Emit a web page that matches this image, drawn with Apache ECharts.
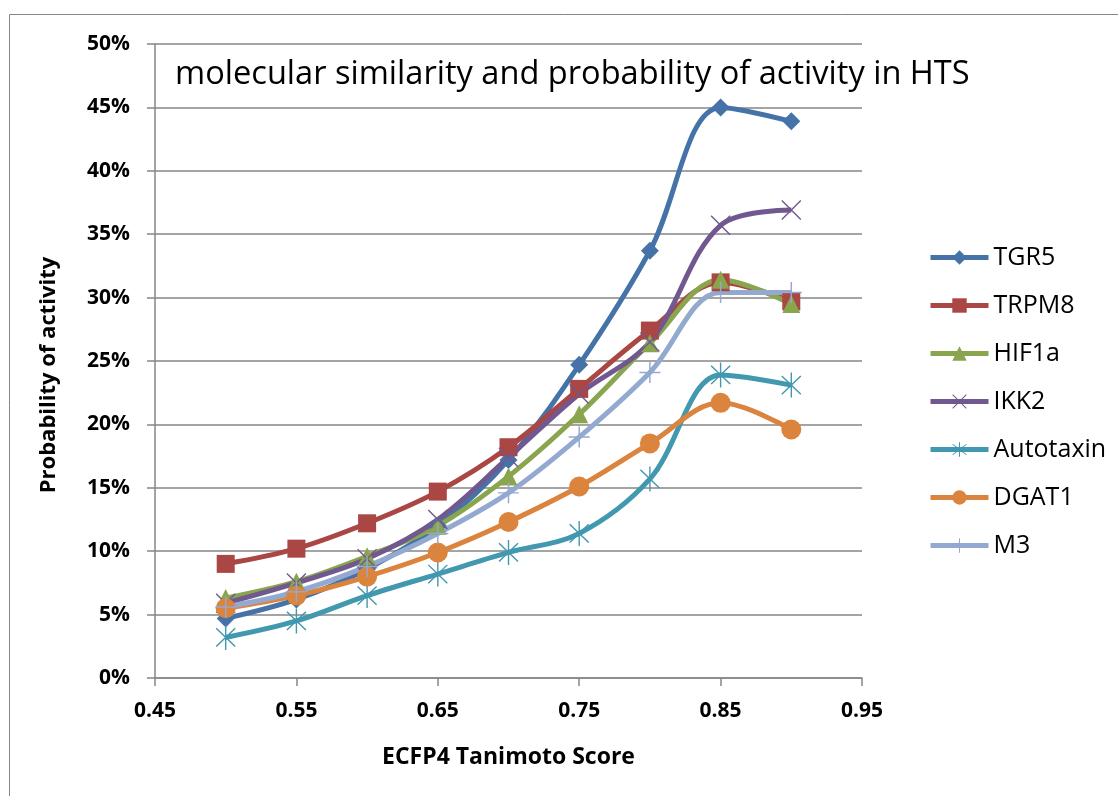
<!DOCTYPE html>
<html>
<head>
<meta charset="utf-8">
<script src="https://cdn.jsdelivr.net/npm/echarts@6/dist/echarts.min.js"></script>
<style>
  * { margin: 0; padding: 0; }
  body { background: #fff; }
  #chart { width: 1118px; height: 796px; }
</style>
</head>
<body>
<div id="chart"></div>
<script>
// x values (ECFP4 Tanimoto score)
var scores = [0.5, 0.55, 0.6, 0.65, 0.7, 0.75, 0.8, 0.85, 0.9];

// probability of activity, %
var tgr5      = [4.7, 6.2, 8.6, 12.0, 17.2, 24.7, 33.7, 45.0, 43.9];
var trpm8     = [9.0, 10.2, 12.2, 14.7, 18.2, 22.8, 27.4, 31.2, 29.7];
var hif1a     = [6.3, 7.6, 9.6, 12.0, 15.9, 20.8, 26.4, 31.4, 29.5];
var ikk2      = [5.9, 7.5, 9.4, 12.5, 17.4, 22.4, 26.5, 35.7, 36.9];
var autotaxin = [3.2, 4.5, 6.5, 8.2, 9.9, 11.4, 15.7, 23.9, 23.1];
var dgat1     = [5.5, 6.5, 8.0, 9.9, 12.3, 15.1, 18.5, 21.7, 19.6];
var m3        = [5.6, 6.8, 8.8, 11.4, 14.6, 19.0, 24.1, 30.4, 30.4];

var FONT = "'Open Sans', 'Noto Sans', sans-serif";

// marker shapes that are strokes in the original
var xPath = "path://M-10,-9 L-9,-10 L10,9 L9,10 Z M9,-10 L10,-9 L-9,10 L-10,9 Z";
var starPath = "path://M-10,-9 L-9,-10 L10,9 L9,10 Z M9,-10 L10,-9 L-9,10 L-10,9 Z M-0.7,-13 L0.7,-13 L0.7,13 L-0.7,13 Z";
var plusPath = "path://M-0.7,-10 L0.7,-10 L0.7,10 L-0.7,10 Z M-10,-0.7 L10,-0.7 L10,0.7 L-10,0.7 Z";

function pts(arr) {
  return scores.map(function (x, i) { return [x, arr[i]]; });
}

function makeSeries(name, arr, color, symbol, size) {
  return {
    name: name,
    type: "line",
    data: pts(arr),
    smooth: 0.35,
    symbol: symbol,
    symbolSize: size,
    showAllSymbol: true,
    lineStyle: { color: color, width: 5 },
    itemStyle: { color: color, opacity: 1 },
    emphasis: { disabled: true },
    z: 3
  };
}

var myChart = echarts.init(document.getElementById("chart"));
var option = {
  animation: false,
  backgroundColor: "#fff",
  color: ["#4572A7", "#AA4643", "#89A54E", "#71588F", "#4198AF", "#DB843D", "#93A9CF"],
  title: {
    text: "molecular similarity and probability of activity in HTS",
    left: 170,
    top: 53,
    textStyle: { fontFamily: FONT, fontSize: 32.6, fontWeight: "normal", color: "#000" }
  },
  graphic: [
    {
      type: "rect",
      shape: { x: 9.5, y: 14.5, width: 1120, height: 800 },
      style: { fill: "none", stroke: "#868686", lineWidth: 1 },
      silent: true
    }
  ],
  legend: {
    orient: "vertical",
    left: 923,
    top: 240,
    itemWidth: 58,
    itemHeight: 18,
    itemGap: 23,
    lineStyle: { width: 5 },
    textStyle: { fontFamily: FONT, fontSize: 25, color: "#000" },
    data: ["TGR5", "TRPM8", "HIF1a", "IKK2", "Autotaxin", "DGAT1", "M3"]
  },
  grid: { left: 155, right: 256, top: 44, bottom: 118 },
  xAxis: {
    type: "value",
    min: 0.45,
    max: 0.95,
    interval: 0.1,
    name: "ECFP4 Tanimoto Score",
    nameLocation: "middle",
    nameGap: 68,
    nameTextStyle: { fontFamily: FONT, fontSize: 23, fontWeight: "bold", color: "#000" },
    axisLine: { lineStyle: { color: "#868686", width: 1.5 } },
    axisTick: { show: true, length: 8, lineStyle: { color: "#868686", width: 1.5 } },
    axisLabel: {
      fontFamily: FONT, fontSize: 21, fontWeight: "bold", color: "#000", margin: 23,
      formatter: function (v) { return v.toFixed(2); }
    },
    splitLine: { show: false }
  },
  yAxis: {
    type: "value",
    min: 0,
    max: 50,
    interval: 5,
    name: "Probability of activity",
    nameLocation: "middle",
    nameGap: 95,
    nameRotate: 90,
    nameTextStyle: {
      fontFamily: FONT, fontSize: 22, fontWeight: "bold", color: "#000",
      padding: [0, 28, 0, 0]
    },
    axisLine: { show: true, lineStyle: { color: "#868686", width: 1.5 } },
    axisTick: { show: true, length: 8, lineStyle: { color: "#868686", width: 1.5 } },
    axisLabel: {
      fontFamily: FONT, fontSize: 21, fontWeight: "bold", color: "#000", margin: 25,
      formatter: function (v) { return v + "%"; }
    },
    splitLine: { lineStyle: { color: "#868686", width: 1.5 } }
  },
  series: [
    makeSeries("TGR5", tgr5, "#4572A7", "diamond", 18),
    makeSeries("TRPM8", trpm8, "#AA4643", "rect", 18),
    makeSeries("HIF1a", hif1a, "#89A54E", "triangle", 18),
    makeSeries("IKK2", ikk2, "#71588F", xPath, 20),
    makeSeries("Autotaxin", autotaxin, "#4198AF", starPath, [20, 25]),
    makeSeries("DGAT1", dgat1, "#DB843D", "circle", 20),
    makeSeries("M3", m3, "#93A9CF", plusPath, 21)
  ]
};
myChart.setOption(option);
window.onresize = myChart.resize;
</script>
</body>
</html>
